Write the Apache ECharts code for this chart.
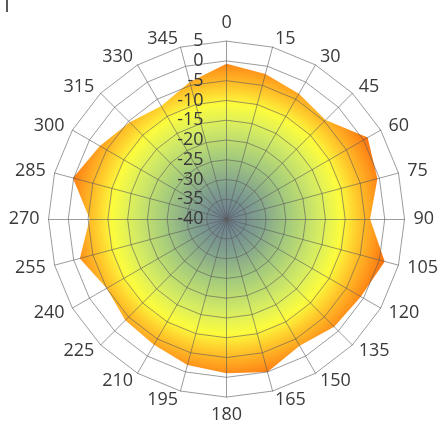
<!DOCTYPE html>
<html>
<head>
<meta charset="utf-8">
<script src="https://cdn.jsdelivr.net/npm/echarts@6/dist/echarts.min.js"></script>
<style>
html,body{margin:0;padding:0;background:#fff;}
#chart{width:439px;height:433px;}
</style>
</head>
<body>
<div id="chart"></div>
<script>
// Category labels (angles, clockwise from top)
const angles = ['0','15','30','45','60','75','90','105','120','135','150','165','180','195','210','225','240','255','270','285','300','315','330','345'];
// Series values
const values = [-0.7, -2, -3.4, -4.6, 1.2, -0.5, -3.7, 1.4, -0.8, -1.5, -3, 0, -1, -1.8, -3.3, -3.8, -5, -1.6, -5.4, 0.2, -3, -5.4, -7, -4.1];
// Radial tick labels
const radialTicks = [-40, -35, -30, -25, -20, -15, -10, -5, 0, 5];

const rMin = radialTicks[0];
const rMax = radialTicks[radialTicks.length - 1];
const rStep = radialTicks[1] - radialTicks[0];

// ECharts radar places indicators counterclockwise; reorder so they run clockwise
const order = [0];
for (let i = angles.length - 1; i >= 1; i--) order.push(i);

const W = 439, H = 433;
const CX = '51.6%', CY = '50.6%', R = 178;
const cxPx = W * 0.516, cyPx = H * 0.506;

const font = 'Open Sans';
const textColor = '#3a3a3a';
const lineColor = 'rgba(90,90,90,0.6)';

const chart = echarts.init(document.getElementById('chart'), null, {renderer: 'canvas'});
chart.setOption({
  animation: false,
  backgroundColor: '#fff',
  graphic: [{
    type: 'rect', left: 6, top: 0,
    shape: {width: 2, height: 12},
    style: {fill: '#595959'}
  }],
  radar: {
    center: [CX, CY],
    radius: R,
    startAngle: 90,
    shape: 'polygon',
    splitNumber: (rMax - rMin) / rStep,
    z: 3,
    indicator: order.map(i => ({name: angles[i], min: rMin, max: rMax})),
    nameGap: 9,
    axisName: {color: textColor, fontSize: 18, fontFamily: font},
    axisLine: {lineStyle: {color: lineColor, width: 1}},
    splitLine: {lineStyle: {color: lineColor, width: 1}},
    splitArea: {show: false},
    axisLabel: {show: false},
    axisTick: {show: false}
  },
  polar: {center: [CX, CY], radius: R},
  angleAxis: {show: false, type: 'value', min: 0, max: 360, startAngle: 90},
  radiusAxis: {
    type: 'value', min: rMin, max: rMax, interval: rStep, z: 6,
    axisLine: {show: false}, axisTick: {show: false}, splitLine: {show: false},
    axisLabel: {color: textColor, fontSize: 18, fontFamily: font, margin: 23}
  },
  series: [{
    type: 'radar',
    z: 1,
    symbol: 'none',
    lineStyle: {width: 0, opacity: 0},
    areaStyle: {
      opacity: 1,
      color: {
        type: 'radial', x: cxPx, y: cyPx, r: 166, global: true,
        colorStops: [
          {offset: 0.0, color: '#687a90'},
          {offset: 0.2, color: '#80a08e'},
          {offset: 0.38, color: '#a6cc7c'},
          {offset: 0.55, color: '#d2ea64'},
          {offset: 0.69, color: '#fcfc3e'},
          {offset: 0.8, color: '#ffc62a'},
          {offset: 0.9, color: '#ff981c'},
          {offset: 1.0, color: '#ff6808'}
        ]
      }
    },
    data: [{value: order.map(i => values[i])}]
  }]
});
</script>
</body>
</html>
